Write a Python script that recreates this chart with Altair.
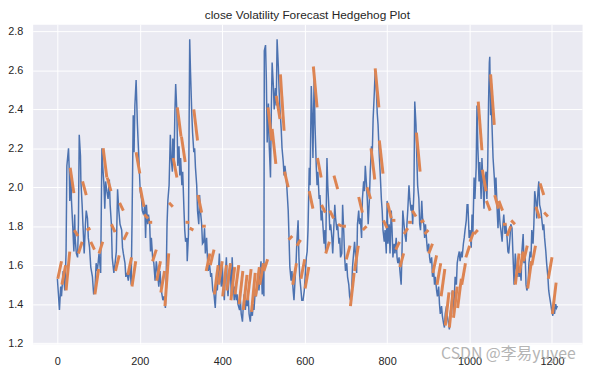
import altair as alt
import pandas as pd

TITLE = "close Volatility Forecast Hedgehog Plot"
WATERMARK = "CSDN @李易yuyee"
x_ticks = [0, 200, 400, 600, 800, 1000, 1200]
y_ticks = [1.2, 1.4, 1.6, 1.8, 2.0, 2.2, 2.4, 2.6, 2.8]

# blue: conditional volatility (index, value)
b1_x = [0, 5, 8, 10, 14, 18, 21, 23, 27, 29, 30, 33, 34, 37, 40, 42, 43, 46, 49, 51,
        53, 56, 57, 60, 62, 65, 68, 70, 73, 75, 78, 81, 85, 88, 91, 94, 97, 101, 105, 108,
        110, 113, 115, 117, 120, 123, 126, 128, 131, 133, 137, 140, 143, 146, 149, 152, 156, 158, 160, 164,
        166, 169, 172, 176, 179, 181, 184, 186, 188, 191]
b1_v = [1.53, 1.37, 1.49, 1.44, 1.57, 1.47, 1.66, 2.11, 2.20, 2.07, 1.93, 2.07, 1.94, 1.81, 1.67, 1.86, 1.74, 1.66, 1.64, 1.81,
        2.27, 2.16, 2.03, 1.91, 1.81, 1.66, 1.81, 1.88, 1.84, 1.74, 1.69, 1.59, 1.54, 1.45, 1.47, 1.61, 1.57, 1.66, 1.56, 2.20,
        2.11, 2.01, 1.89, 2.03, 1.98, 1.94, 2.04, 1.91, 1.81, 1.64, 1.56, 1.61, 1.67, 1.99, 1.88, 1.81, 1.78, 1.69, 1.66, 1.61,
        1.54, 1.56, 1.52, 1.59, 1.50, 1.81, 2.37, 2.18, 2.42, 2.55]

b2_x = [194, 196, 199, 201, 204, 206, 209, 212, 214, 216, 219, 221, 224, 226, 228, 231, 234, 237, 240, 243,
        246, 249, 252, 256, 259, 262, 264, 266, 268, 271, 274, 276, 279, 280, 283, 285, 287, 290, 292, 295,
        297, 299, 302, 304, 307, 309, 311, 314, 315, 318, 319, 321, 323, 326, 328, 331, 333, 335, 338, 340,
        343, 345, 347, 350, 352, 355, 357, 359, 362, 364, 366, 369, 372, 374, 377, 380, 383, 386, 388, 390]
b2_v = [2.33, 2.23, 2.08, 1.98, 1.94, 1.88, 1.86, 1.91, 1.74, 1.91, 1.81, 1.86, 1.81, 1.67, 1.74, 1.64, 1.61, 1.52, 1.62, 1.56,
        1.49, 1.57, 1.47, 1.42, 1.44, 1.38, 1.54, 1.81, 1.93, 2.01, 2.27, 2.15, 2.08, 2.25, 2.13, 2.38, 2.53, 2.38, 2.11, 2.21,
        2.06, 2.15, 2.01, 2.08, 1.89, 1.78, 1.72, 1.74, 1.62, 1.76, 2.15, 2.76, 2.59, 2.38, 2.28, 2.18, 2.20, 2.10, 2.01, 1.88,
        1.81, 1.96, 1.88, 1.81, 1.71, 1.72, 1.79, 1.66, 1.74, 1.64, 1.57, 1.61, 1.54, 1.56, 1.47, 1.45, 1.38, 1.52, 1.47, 1.54]

b3_x = [393, 395, 398, 400, 402, 405, 407, 410, 412, 414, 417, 419, 422, 424, 426, 429, 431, 434, 436, 438,
        442, 444, 446, 449, 451, 453, 456, 458, 461, 463, 465, 468, 470, 473, 475, 477, 480, 482, 485, 487,
        489, 492, 494, 497, 499, 501, 502, 505, 507, 509, 512, 514, 517, 519, 521, 524, 526, 529, 531, 533,
        536, 538, 540, 543, 545, 548, 550, 552, 555, 557, 560, 562, 564, 567, 569, 572, 574, 576, 579, 581,
        584, 586, 588, 591, 593]
b3_v = [1.66, 1.54, 1.49, 1.61, 1.50, 1.42, 1.54, 1.64, 1.50, 1.44, 1.56, 1.61, 1.45, 1.64, 1.54, 1.42, 1.49, 1.42, 1.45, 1.40,
        1.37, 1.42, 1.35, 1.31, 1.39, 1.45, 1.37, 1.42, 1.39, 1.44, 1.35, 1.31, 1.37, 1.34, 1.40, 1.37, 1.47, 1.44, 1.49, 1.54,
        1.47, 1.57, 1.62, 1.45, 1.61, 1.44, 2.70, 2.73, 2.55, 2.23, 2.43, 2.21, 2.05, 2.40, 2.64, 2.52, 2.40, 2.51, 2.42, 2.76,
        2.62, 2.49, 2.40, 2.30, 2.20, 2.13, 2.06, 2.11, 2.05, 1.99, 1.88, 1.74, 1.59, 1.52, 1.57, 1.47, 1.42, 1.50, 1.61, 1.72,
        1.83, 1.64, 1.54, 1.47, 1.42]

b4_x = [596, 599, 601, 604, 606, 608, 611, 613, 616, 618, 620, 623, 625, 628, 630, 632, 635, 637, 640, 642,
        644, 647, 649, 651, 654, 656, 659, 661, 663, 666, 668, 671, 673, 675, 678, 680, 683, 685, 687, 690,
        692, 695, 697, 699, 702, 704, 707, 709, 711, 714, 716, 719, 721, 723, 726, 728, 731, 733, 735, 738,
        740, 743, 745, 747, 750, 752, 754, 757, 759, 762, 764, 766, 769, 771, 774, 776, 778, 781, 783, 786,
        788, 790, 793]
b4_v = [1.42, 1.47, 1.54, 1.64, 1.67, 1.78, 2.10, 2.01, 2.52, 2.38, 2.15, 2.57, 2.32, 2.11, 2.01, 2.08, 1.94, 1.96, 1.83, 1.88,
        1.81, 1.71, 1.78, 1.67, 2.15, 2.01, 1.88, 1.78, 1.81, 1.74, 1.66, 1.81, 1.91, 1.84, 1.78, 1.81, 1.71, 1.74, 1.64, 1.66,
        1.91, 1.76, 1.64, 1.57, 1.61, 1.54, 1.50, 1.44, 1.42, 1.48, 1.59, 1.67, 1.72, 1.66, 1.56, 1.81, 1.88, 1.81, 1.84, 1.74,
        1.94, 2.03, 1.98, 2.11, 2.01, 1.93, 1.81, 1.94, 2.08, 2.21, 2.18, 2.35, 2.49, 2.60, 2.49, 2.38, 2.32, 2.16, 2.08, 1.94,
        1.88, 1.78, 1.72]

b5_x = [795, 798, 800, 802, 805, 807, 810, 812, 814, 817, 819, 822, 824, 826, 829, 831, 834, 836, 838, 841,
        843, 846, 848, 850, 853, 855, 858, 860, 862, 865, 867, 870, 872, 874, 877, 879, 881, 884, 886, 889,
        891, 893, 896, 898, 901, 903, 905, 908, 910, 913, 915, 917, 920, 922, 925, 927, 929, 932, 934, 937,
        939, 941, 944, 946, 949, 951, 953, 956, 958, 961, 963, 965, 968, 970, 972, 975, 977, 980, 982, 985,
        987, 989, 992, 994]
b5_v = [1.78, 1.66, 1.93, 1.71, 1.81, 1.66, 1.88, 1.78, 1.64, 1.71, 1.66, 1.74, 1.64, 1.61, 1.64, 1.57, 1.50, 1.66, 1.88, 1.81,
        1.76, 1.72, 1.81, 1.88, 2.01, 1.94, 1.88, 1.91, 1.81, 1.98, 2.44, 2.32, 2.15, 2.01, 1.94, 1.81, 1.78, 1.93, 1.84, 1.81,
        1.74, 1.81, 1.72, 1.67, 1.71, 1.64, 1.61, 1.64, 1.54, 1.57, 1.50, 1.54, 1.47, 1.44, 1.49, 1.40, 1.35, 1.39, 1.34, 1.30,
        1.28, 1.35, 1.39, 1.34, 1.30, 1.27, 1.35, 1.40, 1.47, 1.35, 1.44, 1.54, 1.50, 1.61, 1.64, 1.67, 1.62, 1.67, 1.64, 1.71,
        1.74, 1.78, 1.83, 1.91]

b6_x = [996, 999, 1001, 1004, 1006, 1008, 1011, 1013, 1016, 1018, 1020, 1023, 1025, 1028, 1030, 1032, 1035, 1037, 1040, 1042,
        1044, 1046, 1048, 1049, 1051, 1052, 1055, 1057, 1060, 1062, 1064, 1067, 1069, 1071, 1074, 1076, 1079, 1081, 1083, 1086,
        1088, 1091, 1093, 1095, 1098, 1100, 1103, 1105, 1108, 1111, 1113, 1115, 1118, 1120, 1123, 1125, 1127, 1130, 1132, 1135,
        1137, 1139, 1142, 1144, 1147, 1149, 1151, 1154, 1156, 1158, 1161, 1163, 1166, 1168, 1170, 1173, 1175, 1178, 1180, 1182,
        1185, 1187, 1190, 1192, 1194, 1197, 1199, 1202, 1204, 1206, 1209, 1211, 1213]
b6_v = [1.91, 1.74, 1.78, 1.69, 1.86, 1.76, 2.05, 1.94, 2.10, 2.42, 2.21, 2.03, 2.13, 1.94, 2.15, 2.05, 1.89, 2.03, 2.08, 1.94,
        2.11, 2.43, 2.64, 2.67, 2.37, 2.49, 2.28, 2.15, 2.05, 1.96, 2.05, 1.88, 1.79, 1.91, 1.81, 1.78, 1.72, 1.81, 1.86, 1.76,
        1.81, 1.74, 1.67, 1.66, 1.74, 1.81, 1.79, 1.67, 1.50, 1.66, 1.59, 1.54, 1.61, 1.54, 1.57, 1.52, 1.67, 1.76, 1.61, 1.64,
        1.50, 1.47, 1.50, 1.61, 1.67, 1.64, 1.78, 1.71, 1.81, 1.98, 1.93, 1.84, 1.98, 2.03, 1.91, 1.88, 1.84, 1.78, 1.81, 1.74,
        1.67, 1.61, 1.54, 1.47, 1.44, 1.40, 1.37, 1.34, 1.39, 1.35, 1.40, 1.38, 1.39]

# orange: 10-step forecasts made every 10 observations (first and last forecast value)
HORIZON = 10
fc_origin = list(range(0, 1201, 10))
fc_first = [1.53, 1.50, 1.47, 2.10, 1.78, 1.66, 2.03, 1.78, 1.72, 1.45,
            1.66, 2.20, 2.05, 1.81, 1.57, 1.92, 1.73, 1.55, 1.49, 2.18,
            2.00, 1.86, 1.82, 1.62, 1.52, 1.46, 1.39, 1.92, 2.15, 2.41,
            2.26, 1.82, 1.79, 2.40, 1.96, 1.80, 1.57, 1.60, 1.45, 1.50,
            1.44, 1.47, 1.42, 1.45, 1.40, 1.37, 1.42, 1.36, 1.44, 1.50,
            1.57, 2.41, 2.30, 2.47, 2.58, 2.08, 1.73, 1.50, 1.70, 1.53,
            1.48, 1.98, 2.62, 2.15, 1.91, 1.66, 1.88, 2.06, 1.81, 1.80,
            1.63, 1.39, 1.57, 1.95, 1.78, 2.00, 2.20, 2.61, 2.24, 1.83,
            1.92, 1.83, 1.68, 1.59, 1.76, 1.82, 1.88, 2.28, 1.82, 1.76,
            1.66, 1.56, 1.50, 1.44, 1.29, 1.28, 1.33, 1.38, 1.50, 1.64,
            1.72, 1.76, 2.44, 2.09, 1.93, 2.58, 1.96, 1.93, 1.81, 1.75,
            1.83, 1.50, 1.56, 1.62, 1.48, 1.60, 1.90, 2.02, 1.87, 1.53,
            1.35]
fc_last = [1.62, 1.60, 1.67, 1.97, 1.75, 1.72, 1.96, 1.79, 1.68, 1.58,
           1.72, 2.05, 1.98, 1.77, 1.65, 1.88, 1.77, 1.64, 1.62, 2.07,
           1.90, 1.84, 1.82, 1.68, 1.62, 1.57, 1.66, 1.90, 2.05, 2.26,
           2.13, 1.82, 1.78, 2.24, 1.87, 1.80, 1.66, 1.68, 1.60, 1.62,
           1.60, 1.61, 1.59, 1.60, 1.57, 1.55, 1.58, 1.56, 1.59, 1.61,
           1.63, 2.24, 2.12, 2.35, 2.29, 2.00, 1.75, 1.61, 1.73, 1.63,
           1.59, 1.89, 2.41, 2.05, 1.87, 1.72, 1.84, 1.99, 1.80, 1.80,
           1.70, 1.56, 1.70, 1.87, 1.80, 1.94, 2.04, 2.41, 2.07, 1.79,
           1.84, 1.83, 1.72, 1.66, 1.79, 1.82, 1.85, 2.08, 1.83, 1.78,
           1.71, 1.65, 1.61, 1.58, 1.46, 1.47, 1.49, 1.53, 1.61, 1.70,
           1.77, 1.78, 2.19, 1.98, 1.88, 2.32, 1.89, 1.88, 1.81, 1.80,
           1.81, 1.66, 1.67, 1.70, 1.62, 1.70, 1.84, 1.96, 1.85, 1.64,
           1.51]

blue_rows = []
for xs, vs in [(b1_x, b1_v), (b2_x, b2_v), (b3_x, b3_v), (b4_x, b4_v), (b5_x, b5_v), (b6_x, b6_v)]:
    for x, v in zip(xs, vs):
        blue_rows.append({"x": x, "v": v})
blue_df = pd.DataFrame(blue_rows)

fc_rows = []
for o, a, b in zip(fc_origin, fc_first, fc_last):
    fc_rows.append({"x": o + 1, "v": a, "seg": o})
    fc_rows.append({"x": o + HORIZON, "v": b, "seg": o})
fc_df = pd.DataFrame(fc_rows)

FONT = "Liberation Sans"
x_enc = alt.X("x:Q", scale=alt.Scale(domain=[-60, 1273], nice=False, zero=False),
              axis=alt.Axis(values=x_ticks, title=None, grid=True, domain=False, ticks=False,
                            labelPadding=12, labelFontSize=11, labelFont=FONT, labelColor="#262626",
                            gridColor="white", gridWidth=1, format="d"))
y_enc = alt.Y("v:Q", scale=alt.Scale(domain=[1.196, 2.837], nice=False, zero=False),
              axis=alt.Axis(values=y_ticks, title=None, grid=True, domain=False, ticks=False,
                            labelPadding=10, labelFontSize=11, labelFont=FONT, labelColor="#262626",
                            gridColor="white", gridWidth=1, format=".1f"))

blue = alt.Chart(blue_df).mark_line(color="#4C72B0", strokeWidth=1.5).encode(x=x_enc, y=y_enc)
orange = alt.Chart(fc_df).mark_line(color="#DD8452", strokeWidth=3).encode(
    x="x:Q", y="v:Q", detail="seg:N")
wm = alt.Chart(pd.DataFrame({"t": [WATERMARK]})).mark_text(
    align="left", baseline="middle", font="Noto Sans CJK SC", fontSize=16,
    color="#a8a8a8", opacity=0.85).encode(x=alt.value(414), y=alt.value(334), text="t:N")

chart = alt.layer(blue, orange, wm).properties(
    width=557, height=324,
    title=alt.TitleParams(TITLE, fontSize=12, font=FONT, fontWeight="normal",
                          color="#262626", offset=2, anchor="middle"),
    autosize=alt.AutoSizeParams(type="none"),
    padding={"left": 25, "top": 14, "right": 7, "bottom": 20},
).configure_view(fill="#EAEAF2", stroke="transparent")

chart.save("out.html", embed_options={"renderer": "svg", "actions": False})
